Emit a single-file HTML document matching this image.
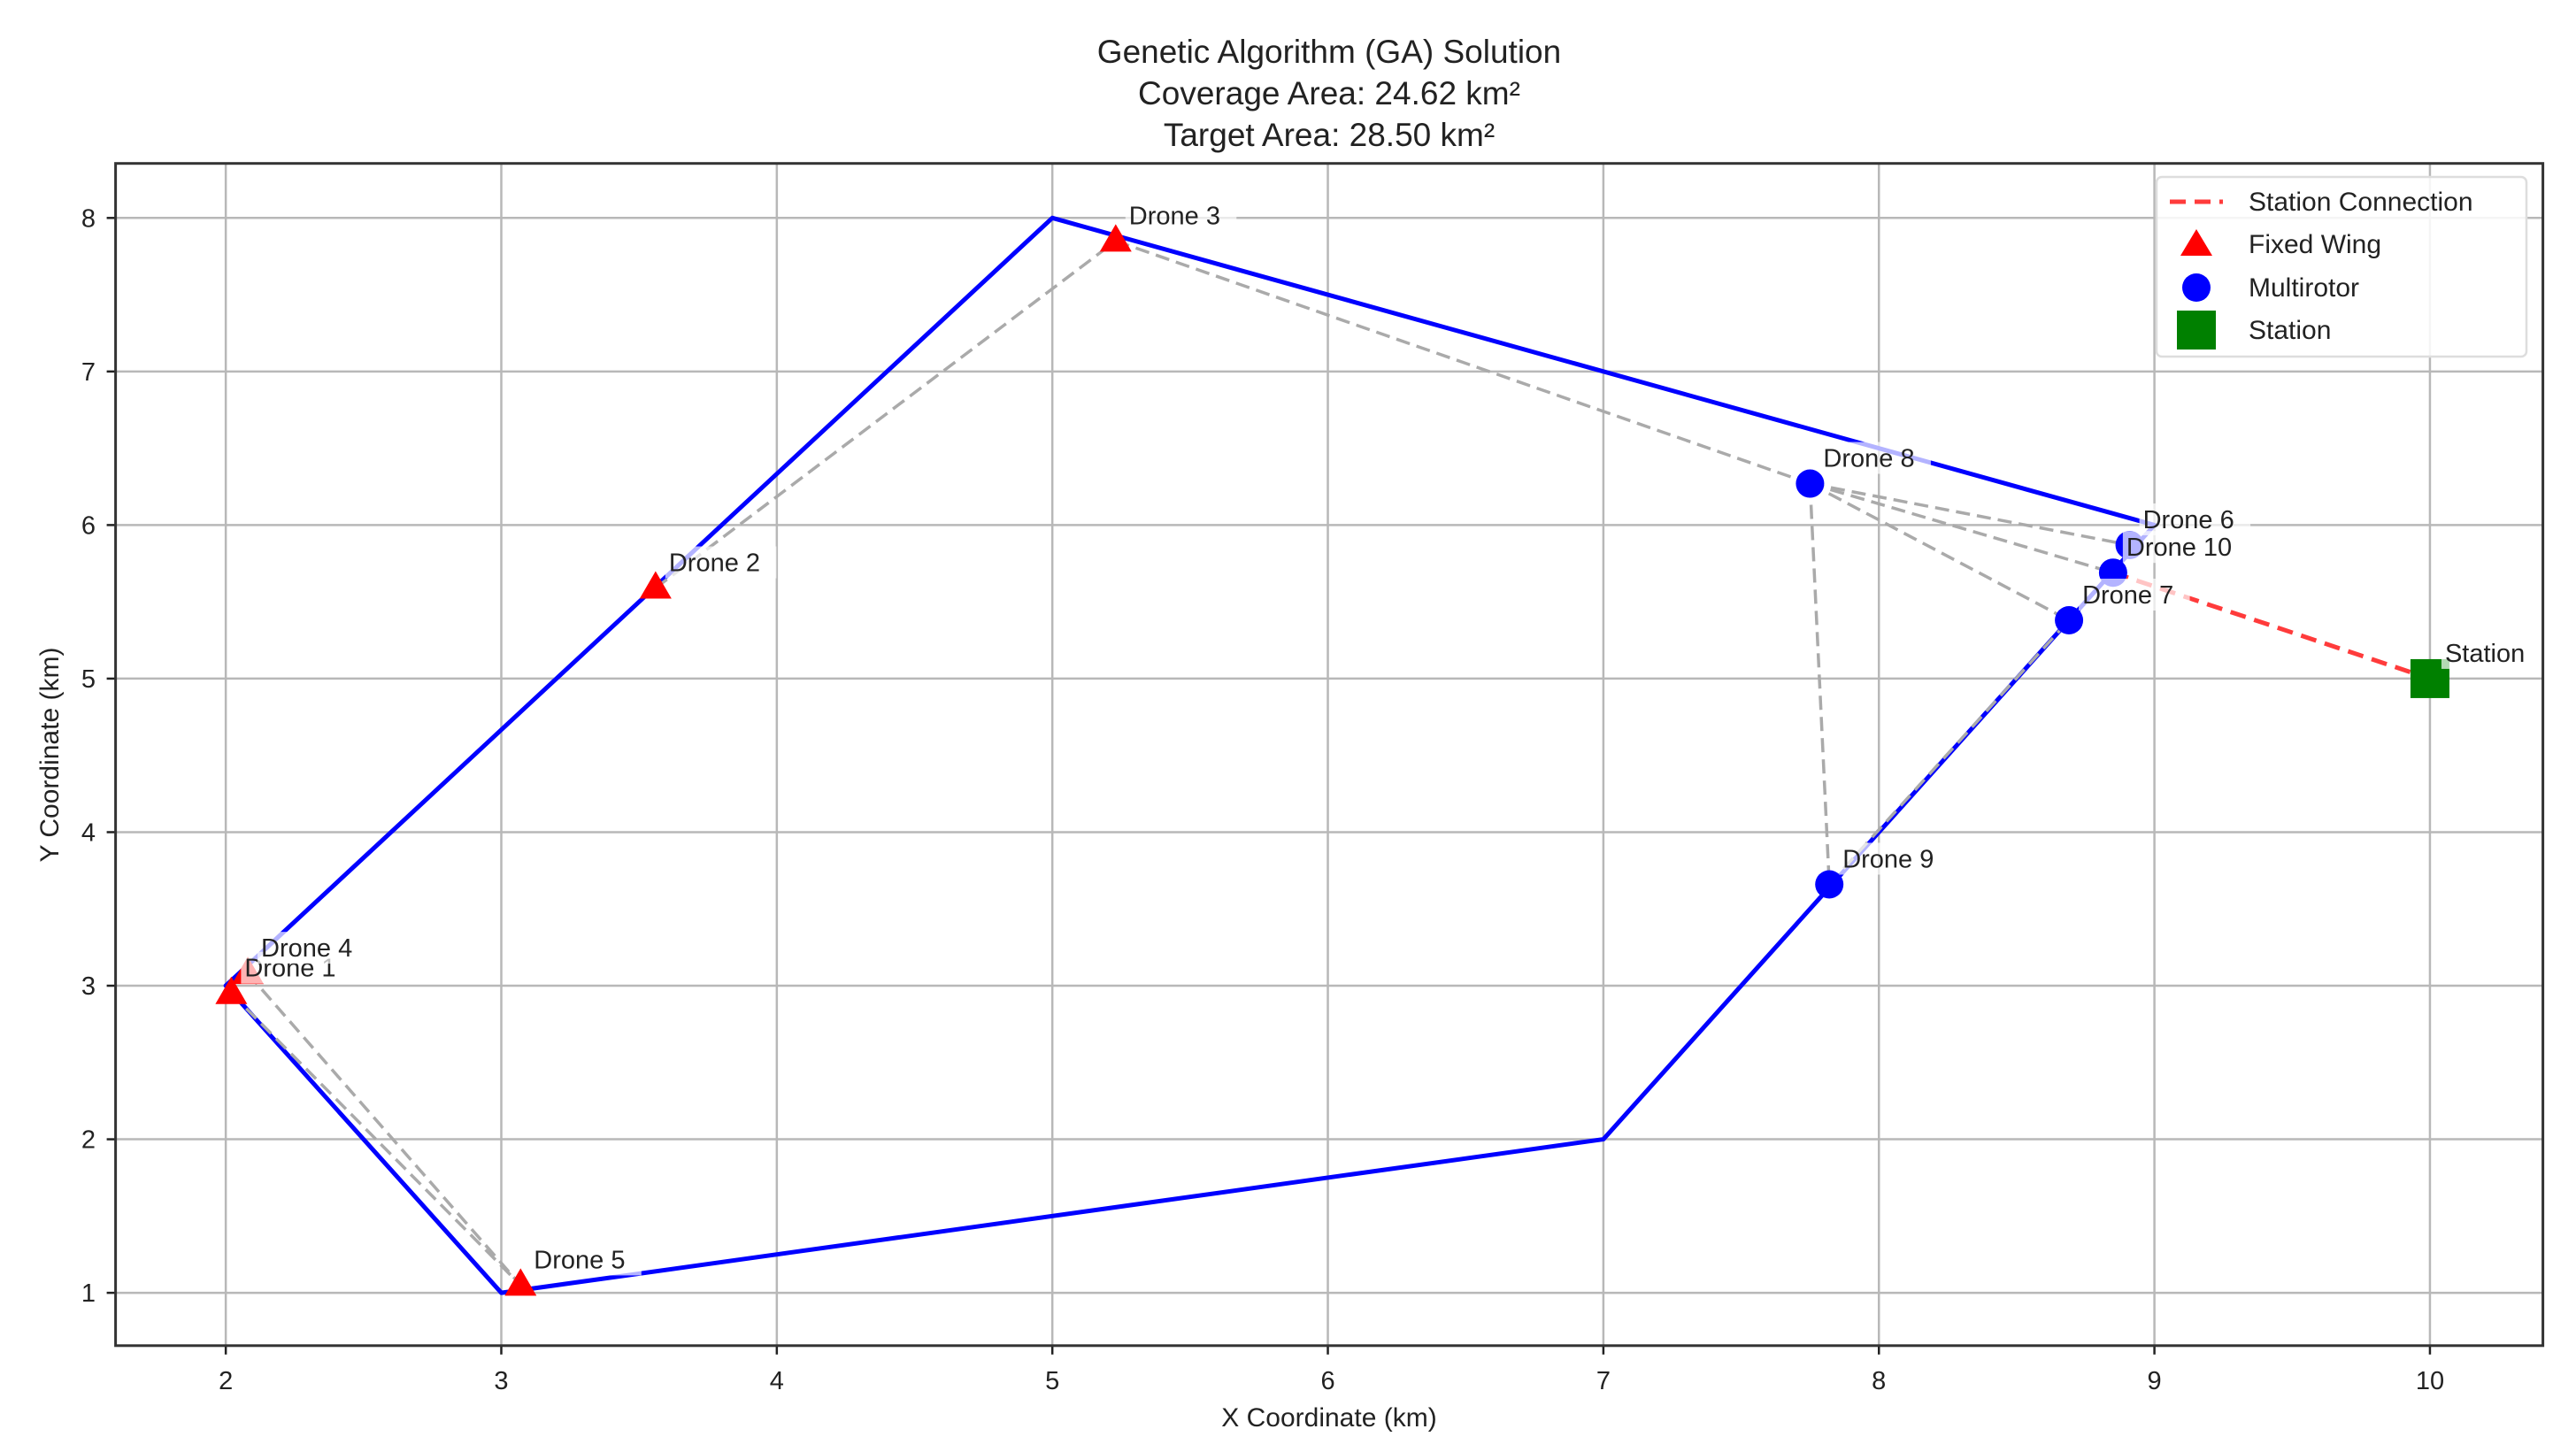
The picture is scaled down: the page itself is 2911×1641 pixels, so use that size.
<!DOCTYPE html>
<html><head><meta charset="utf-8"><style>
html,body{margin:0;padding:0;background:#fff;}
svg{display:block;font-family:"Liberation Sans","DejaVu Sans",sans-serif;}
</style></head><body>
<svg id="chart" width="2911" height="1641" viewBox="0 0 2911 1641"></svg>
<script>
const xTicks=[2,3,4,5,6,7,8,9,10];
const yTicks=[1,2,3,4,5,6,7,8];
const polyX=[3,2,5,9,7];
const polyY=[1,3,8,6,2];
const droneNames=["Drone 1","Drone 2","Drone 3","Drone 4","Drone 5","Drone 6","Drone 7","Drone 8","Drone 9","Drone 10"];
const droneX=[2.02,3.56,5.23,2.08,3.07,8.91,8.69,7.75,7.82,8.85];
const droneY=[2.95,5.59,7.85,3.08,1.05,5.87,5.38,6.27,3.66,5.69];
const droneType=["fixed","fixed","fixed","fixed","fixed","multi","multi","multi","multi","multi"];
const linkFrom=[1,2,7,7,7,7,3,0,8];
const linkTo=[2,7,5,9,6,8,4,4,6];
const stationX=[10];
const stationY=[5];
const stationLinkDrone=9;

const L=130.6,R=2873.6,T=184.7,B=1520.8;
const xmin=1.6,xmax=10.41,ymin=0.656,ymax=8.355;
const sx=v=>L+(v-xmin)/(xmax-xmin)*(R-L);
const sy=v=>B-(v-ymin)/(ymax-ymin)*(B-T);
const svg=document.getElementById('chart');
const NS='http://www.w3.org/2000/svg';
function mk(tag,attrs,parent){const e=document.createElementNS(NS,tag);for(const k in attrs)e.setAttribute(k,attrs[k]);(parent||svg).appendChild(e);return e;}

// title
const titles=["Genetic Algorithm (GA) Solution","Coverage Area: 24.62 km²","Target Area: 28.50 km²"];
titles.forEach((t,i)=>{const e=mk('text',{x:1502,y:71+i*47,'text-anchor':'middle','font-size':37,fill:'#222'});e.textContent=t;

});

// grid
xTicks.forEach(v=>{const g=mk('line',{x1:sx(v),x2:sx(v),y1:T,y2:B,stroke:'#b8b8b8','stroke-width':2.5});


const tk=mk('line',{x1:sx(v),x2:sx(v),y1:B,y2:B+10,stroke:'#222','stroke-width':2.5});


const t=mk('text',{x:sx(v),y:1570,'text-anchor':'middle','font-size':29,fill:'#222'});t.textContent=v;

});
yTicks.forEach(v=>{const g=mk('line',{x1:L,x2:R,y1:sy(v),y2:sy(v),stroke:'#b8b8b8','stroke-width':2.5});


const tk=mk('line',{x1:L-10,x2:L,y1:sy(v),y2:sy(v),stroke:'#222','stroke-width':2.5});


const t=mk('text',{x:108,y:sy(v)+10,'text-anchor':'end','font-size':29,fill:'#222'});t.textContent=v;

});

// target polygon
const pts=polyX.map((x,i)=>sx(x)+','+sy(polyY[i])).join(' ');
const poly=mk('polygon',{points:pts,fill:'none',stroke:'#0000ff','stroke-width':5,'stroke-linejoin':'round'});



// links
linkFrom.forEach((a,i)=>{const b=linkTo[i];
const l=mk('line',{x1:sx(droneX[a]),y1:sy(droneY[a]),x2:sx(droneX[b]),y2:sy(droneY[b]),stroke:'#aaaaaa','stroke-width':3.5,'stroke-dasharray':'16 8'});

});

// station connection
const sc=mk('line',{x1:sx(droneX[stationLinkDrone]),y1:sy(droneY[stationLinkDrone]),x2:sx(stationX[0]),y2:sy(stationY[0]),stroke:'#ff3b3b','stroke-width':5,'stroke-dasharray':'18 10'});



// drone markers
droneX.forEach((x,i)=>{const cx=sx(x),cy=sy(droneY[i]);let m;
if(droneType[i]==='fixed'){m=mk('polygon',{points:`${cx},${cy-19} ${cx-18},${cy+12} ${cx+18},${cy+12}`,fill:'#ff0000'});}
else{m=mk('circle',{cx:cx,cy:cy,r:16,fill:'#0000ff'});}

});
// station marker
stationX.forEach((x,i)=>{const r=mk('rect',{x:sx(x)-22,y:sy(stationY[i])-22,width:44,height:44,fill:'#008000'});

});

// labels
function label(txt,x,y){const w=txt.length*16.5+10;
const bg=mk('rect',{x:x-4,y:y-28,width:w,height:36,fill:'#fff','fill-opacity':0.7});


const t=mk('text',{x:x,y:y,'font-size':29,fill:'#222'});t.textContent=txt;

}
droneX.forEach((x,i)=>label(droneNames[i],sx(x)+15,sy(droneY[i])-19));
label("Station",sx(stationX[0])+17,sy(stationY[0])-19);

// axes frame
const fr=mk('rect',{x:L,y:T,width:R-L,height:B-T,fill:'none',stroke:'#333','stroke-width':3});



// axis titles
const xl=mk('text',{x:1502,y:1612,'text-anchor':'middle','font-size':30,fill:'#222'});xl.textContent='X Coordinate (km)';


const yl=mk('text',{x:0,y:0,'text-anchor':'middle','font-size':30,fill:'#222',transform:'translate(66,853) rotate(-90)'});yl.textContent='Y Coordinate (km)';



// legend
const lg=mk('rect',{x:2437,y:200,width:418,height:203,fill:'#fff','fill-opacity':0.85,stroke:'#dddddd','stroke-width':2.5,rx:6});


const ly=[228,276,325,373];
const ln=mk('line',{x1:2452,x2:2512,y1:ly[0],y2:ly[0],stroke:'#ff3b3b','stroke-width':5,'stroke-dasharray':'18 10'});


const tri=mk('polygon',{points:`2482,${ly[1]-17} 2464,${ly[1]+13} 2500,${ly[1]+13}`,fill:'#ff0000'});


const ci=mk('circle',{cx:2482,cy:ly[2],r:16,fill:'#0000ff'});


const sq=mk('rect',{x:2460,y:ly[3]-22,width:44,height:44,fill:'#008000'});


["Station Connection","Fixed Wing","Multirotor","Station"].forEach((t,i)=>{const e=mk('text',{x:2541,y:ly[i]+10,'font-size':30,fill:'#222'});e.textContent=t;

});
</script>
</body></html>
